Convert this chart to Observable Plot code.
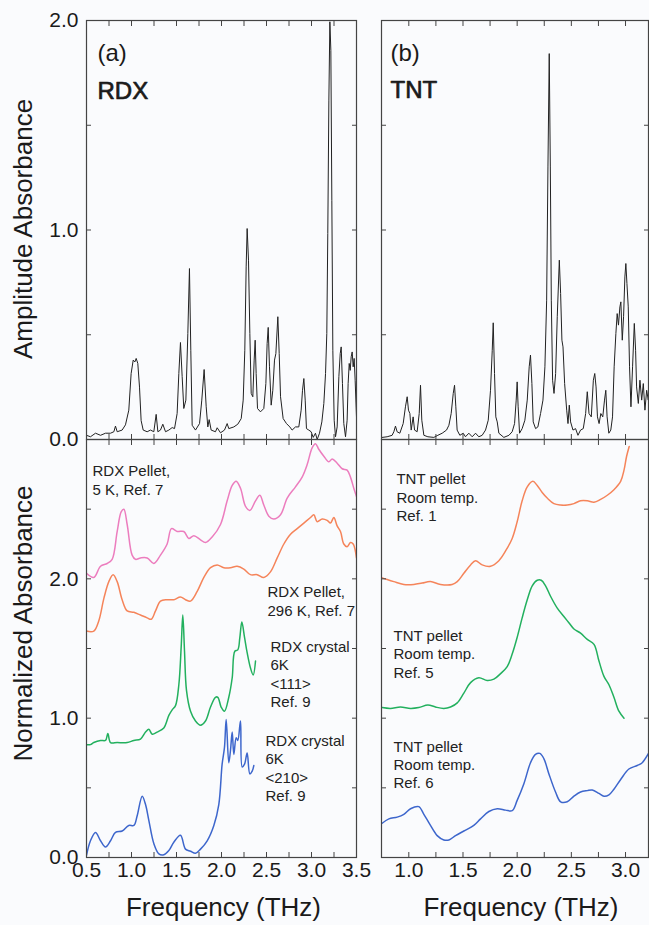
<!DOCTYPE html>
<html><head><meta charset="utf-8">
<script src="https://cdn.jsdelivr.net/npm/d3@7"></script>
<script src="https://cdn.jsdelivr.net/npm/@observablehq/plot@0.6"></script>
<style>
body{margin:0;background:#fafbfd;}
#chart{position:relative;width:649px;height:925px;font-family:"Liberation Sans",Arial,sans-serif;}
#chart svg{position:absolute;left:0;top:0;}
</style></head><body><div id="chart"></div>
<script>
// ---------- DATA ----------
// (a) RDX amplitude absorbance
const rdxAmpFreq = [0.500,0.544,0.600,0.656,0.711,0.767,0.804,0.822,0.841,0.896,0.933,0.970,0.996,1.019,1.037,1.052,1.070,1.089,1.107,1.130,1.174,1.211,1.248,1.274,1.293,1.322,1.348,1.378,1.415,1.452,1.478,1.507,1.526,1.544,1.563,1.581,1.604,1.626,1.644,1.659,1.674,1.711,1.756,1.781,1.807,1.830,1.848,1.863,1.885,1.933,1.952,1.989,2.033,2.063,2.081,2.137,2.181,2.219,2.241,2.259,2.274,2.285,2.300,2.315,2.330,2.348,2.363,2.374,2.385,2.400,2.433,2.470,2.493,2.507,2.519,2.533,2.552,2.570,2.589,2.604,2.626,2.641,2.656,2.685,2.722,2.759,2.785,2.822,2.859,2.885,2.900,2.915,2.930,2.944,2.970,2.996,3.019,3.044,3.063,3.089,3.115,3.137,3.156,3.170,3.181,3.193,3.204,3.215,3.226,3.237,3.252,3.267,3.285,3.304,3.319,3.330,3.344,3.359,3.378,3.396,3.407,3.419,3.430,3.441,3.452,3.463,3.474,3.485,3.500];
const rdxAmpAbs = [0.02,0.013,0.03,0.02,0.03,0.03,0.037,0.064,0.037,0.045,0.07,0.14,0.315,0.379,0.37,0.387,0.363,0.25,0.09,0.045,0.037,0.045,0.037,0.12,0.037,0.045,0.073,0.037,0.045,0.057,0.052,0.124,0.315,0.463,0.3,0.148,0.188,0.506,0.816,0.426,0.068,0.045,0.076,0.188,0.334,0.156,0.06,0.095,0.045,0.037,0.056,0.032,0.045,0.076,0.052,0.06,0.073,0.1,0.188,0.426,0.824,1.007,0.856,0.506,0.22,0.204,0.379,0.474,0.315,0.148,0.132,0.148,0.267,0.458,0.535,0.347,0.164,0.235,0.379,0.41,0.586,0.41,0.204,0.1,0.076,0.06,0.045,0.06,0.06,0.14,0.235,0.291,0.188,0.052,0.045,0.037,0.01,0.03,0.0,0.03,0.084,0.172,0.315,0.506,0.983,1.62,1.994,1.858,1.142,0.426,0.092,0.013,0.06,0.3,0.41,0.442,0.267,0.076,0.013,0.092,0.267,0.363,0.33,0.395,0.418,0.347,0.387,0.283,0.108];

// (b) TNT amplitude absorbance
const tntAmpFreq = [0.754,0.800,0.846,0.862,0.877,0.892,0.917,0.948,0.969,0.985,0.997,1.010,1.022,1.040,1.053,1.077,1.096,1.108,1.120,1.139,1.176,1.231,1.268,1.308,1.348,1.370,1.391,1.410,1.422,1.434,1.446,1.471,1.502,1.523,1.554,1.585,1.616,1.646,1.677,1.708,1.733,1.754,1.770,1.779,1.791,1.803,1.816,1.831,1.877,1.924,1.954,1.976,1.991,2.000,2.009,2.022,2.046,2.071,2.093,2.111,2.123,2.136,2.148,2.170,2.191,2.216,2.238,2.256,2.272,2.284,2.296,2.306,2.315,2.327,2.340,2.355,2.370,2.389,2.401,2.413,2.423,2.438,2.457,2.469,2.481,2.493,2.515,2.539,2.561,2.585,2.610,2.632,2.647,2.663,2.684,2.703,2.716,2.728,2.741,2.756,2.772,2.790,2.806,2.818,2.830,2.846,2.864,2.880,2.895,2.911,2.923,2.935,2.948,2.957,2.970,2.982,2.994,3.003,3.013,3.025,3.037,3.050,3.065,3.081,3.093,3.102,3.118,3.133,3.149,3.164,3.179,3.195,3.210,3.222];
const tntAmpAbs = [0.01,0.013,0.02,0.037,0.064,0.037,0.03,0.076,0.156,0.204,0.14,0.124,0.045,0.108,0.045,0.037,0.124,0.259,0.092,0.02,0.013,0.01,0.02,0.03,0.045,0.068,0.124,0.22,0.259,0.156,0.045,0.02,0.03,0.013,0.03,0.013,0.03,0.013,0.02,0.045,0.092,0.235,0.426,0.557,0.315,0.108,0.084,0.03,0.01,0.02,0.037,0.076,0.188,0.275,0.156,0.03,0.052,0.092,0.188,0.347,0.403,0.267,0.084,0.052,0.06,0.124,0.188,0.347,0.665,1.301,1.842,1.301,0.665,0.283,0.22,0.315,0.586,0.856,0.697,0.474,0.442,0.267,0.14,0.076,0.164,0.084,0.045,0.052,0.02,0.045,0.052,0.124,0.228,0.124,0.108,0.283,0.315,0.251,0.108,0.076,0.124,0.108,0.188,0.235,0.108,0.03,0.045,0.108,0.347,0.506,0.601,0.546,0.633,0.657,0.474,0.586,0.776,0.84,0.745,0.633,0.347,0.156,0.347,0.554,0.426,0.251,0.172,0.283,0.188,0.267,0.14,0.235,0.188,0.267];

// normalized absorbance, RDX (offset curves)
const rdx5KFreq = [0.500,0.581,0.656,0.730,0.785,0.841,0.885,0.915,0.952,1.007,1.044,1.100,1.174,1.248,1.322,1.396,1.444,1.507,1.581,1.637,1.693,1.767,1.822,1.896,1.989,2.063,2.119,2.163,2.211,2.267,2.315,2.378,2.426,2.470,2.526,2.581,2.656,2.730,2.822,2.896,2.952,3.007,3.044,3.081,3.137,3.193,3.230,3.285,3.341,3.396,3.433,3.470,3.500];
const rdx5KAbs = [2.04,2.01,2.09,2.11,2.14,2.34,2.48,2.50,2.39,2.17,2.14,2.15,2.15,2.11,2.17,2.25,2.36,2.34,2.34,2.29,2.31,2.28,2.26,2.30,2.39,2.56,2.67,2.70,2.65,2.52,2.49,2.56,2.60,2.53,2.45,2.43,2.46,2.58,2.66,2.73,2.82,2.94,2.97,2.93,2.88,2.84,2.86,2.83,2.79,2.78,2.73,2.65,2.59];
const rdx296KFreq = [0.500,0.581,0.637,0.693,0.748,0.796,0.841,0.896,0.952,1.026,1.100,1.174,1.219,1.267,1.322,1.396,1.470,1.544,1.600,1.656,1.730,1.804,1.878,1.952,2.026,2.100,2.174,2.248,2.322,2.396,2.470,2.544,2.619,2.693,2.767,2.841,2.915,2.989,3.026,3.063,3.119,3.174,3.211,3.248,3.285,3.322,3.359,3.396,3.433,3.463,3.500];
const rdx296KAbs = [1.625,1.625,1.70,1.86,1.98,2.03,1.98,1.85,1.77,1.76,1.74,1.72,1.71,1.77,1.84,1.85,1.85,1.87,1.85,1.84,1.91,2.01,2.08,2.10,2.08,2.08,2.09,2.07,2.03,2.03,2.01,2.05,2.15,2.25,2.32,2.36,2.40,2.44,2.46,2.41,2.43,2.42,2.40,2.44,2.38,2.34,2.25,2.23,2.26,2.25,2.15];
const rdx111Freq = [0.500,0.544,0.581,0.656,0.711,0.737,0.767,0.841,0.952,1.026,1.100,1.156,1.193,1.230,1.285,1.359,1.415,1.452,1.489,1.526,1.552,1.570,1.589,1.611,1.656,1.711,1.767,1.822,1.878,1.933,1.959,1.996,2.033,2.081,2.119,2.148,2.181,2.204,2.226,2.256,2.285,2.322,2.352,2.378];
const rdx111Abs = [0.81,0.81,0.825,0.84,0.84,0.89,0.825,0.825,0.825,0.84,0.85,0.90,0.92,0.885,0.90,0.93,1.02,1.06,1.09,1.24,1.51,1.74,1.48,1.20,1.05,0.98,0.95,0.98,1.08,1.15,1.15,1.08,1.05,1.15,1.29,1.48,1.49,1.58,1.69,1.58,1.47,1.36,1.31,1.41];
const rdx210Freq = [0.500,0.544,0.600,0.656,0.711,0.767,0.822,0.896,0.970,1.026,1.063,1.119,1.156,1.193,1.248,1.304,1.359,1.415,1.470,1.544,1.600,1.656,1.711,1.767,1.841,1.915,1.970,2.007,2.033,2.052,2.081,2.100,2.119,2.137,2.163,2.181,2.211,2.230,2.256,2.285,2.315,2.341,2.359];
const rdx210Abs = [0.015,0.12,0.18,0.12,0.075,0.12,0.18,0.19,0.23,0.23,0.30,0.44,0.38,0.265,0.10,0.026,0.02,0.05,0.11,0.16,0.06,0.045,0.03,0.06,0.12,0.23,0.38,0.67,0.79,0.99,0.68,0.77,0.90,0.74,0.86,0.84,0.98,0.65,0.67,0.75,0.60,0.62,0.66];

// normalized absorbance, TNT (offset curves)
const tntRef1Freq = [0.754,0.800,0.862,0.954,1.046,1.123,1.200,1.293,1.400,1.447,1.508,1.570,1.616,1.677,1.754,1.831,1.893,1.954,2.000,2.046,2.093,2.145,2.185,2.231,2.277,2.339,2.401,2.462,2.524,2.585,2.647,2.709,2.770,2.832,2.893,2.955,2.986,3.010,3.034];
const tntRef1Abs = [2.007,1.995,1.98,1.96,1.96,1.97,1.98,1.96,1.96,1.98,2.04,2.10,2.13,2.10,2.09,2.13,2.20,2.29,2.41,2.56,2.66,2.70,2.67,2.62,2.58,2.54,2.53,2.53,2.54,2.56,2.56,2.55,2.57,2.60,2.64,2.70,2.78,2.88,2.95];
const tntRef5Freq = [0.754,0.831,0.923,1.016,1.092,1.176,1.246,1.323,1.385,1.447,1.508,1.570,1.646,1.723,1.785,1.847,1.908,1.954,2.000,2.046,2.093,2.139,2.185,2.222,2.262,2.308,2.370,2.431,2.477,2.524,2.585,2.647,2.709,2.755,2.801,2.847,2.893,2.939,2.986];
const tntRef5Abs = [1.076,1.07,1.08,1.07,1.076,1.095,1.08,1.07,1.08,1.11,1.18,1.255,1.29,1.27,1.28,1.32,1.37,1.46,1.58,1.72,1.85,1.95,1.99,1.99,1.95,1.875,1.79,1.73,1.685,1.64,1.61,1.565,1.53,1.41,1.30,1.24,1.15,1.05,1.00];
const tntRef6Freq = [0.754,0.816,0.893,0.954,1.016,1.092,1.139,1.200,1.262,1.323,1.370,1.431,1.508,1.600,1.662,1.739,1.816,1.893,1.954,2.000,2.062,2.123,2.169,2.209,2.246,2.293,2.354,2.401,2.462,2.524,2.585,2.647,2.693,2.755,2.801,2.847,2.893,2.955,3.031,3.108,3.154,3.222];
const tntRef6Abs = [0.246,0.277,0.29,0.31,0.35,0.365,0.31,0.23,0.157,0.126,0.126,0.157,0.19,0.23,0.277,0.33,0.35,0.34,0.336,0.41,0.53,0.68,0.74,0.747,0.71,0.60,0.47,0.40,0.40,0.44,0.47,0.48,0.484,0.46,0.44,0.45,0.49,0.56,0.635,0.66,0.68,0.76];

// curve labels
const rdxLabels = ["RDX Pellet,\n5 K, Ref. 7", "RDX Pellet,\n296 K, Ref. 7", "RDX crystal\n6K\n<111>\nRef. 9", "RDX crystal\n6K\n<210>\nRef. 9"];
const tntLabels = ["TNT pellet\nRoom temp.\nRef. 1", "TNT pellet\nRoom temp.\nRef. 5", "TNT pellet\nRoom temp.\nRef. 6"];
const xTickLabelsA = [0.5, 1.0, 1.5, 2.0, 2.5, 3.0, 3.5];
const xTickLabelsB = [1.0, 1.5, 2.0, 2.5, 3.0];
const yTickLabels = [0.0, 1.0, 2.0];

// ---------- LAYOUT ----------
const W = 649, H = 925;
const FONT = "'Liberation Sans', Arial, Helvetica, sans-serif";
const INK = "#1a1a1a", FRAME = "#444";
const colors = {pink: "#ec7dbe", orange: "#f5845a", green: "#22b05e", blue: "#3d66cc"};
const pts = (f, v) => f.map((x, i) => ({f: x, v: v[i]}));
const rangeStep = (a, b, s) => d3.range(Math.round((b - a) / s) + 1).map(i => +(a + i * s).toFixed(4));

function panel({frame: [l, t, r, b], xDomain, yDomain, xMinor, yMinor, xLab, yLab, marks}) {
  const ticks = [
    Plot.axisX(xMinor, {anchor: "bottom", tickSize: -5, tickFormat: () => "", label: null, stroke: FRAME}),
    Plot.axisX(xMinor, {anchor: "top", tickSize: -5, tickFormat: () => "", label: null, stroke: FRAME}),
    Plot.axisY(yMinor, {anchor: "left", tickSize: -5, tickFormat: () => "", label: null, stroke: FRAME}),
    Plot.axisY(yMinor, {anchor: "right", tickSize: -5, tickFormat: () => "", label: null, stroke: FRAME})
  ];
  if (xLab) ticks.push(Plot.axisX(xLab, {anchor: "bottom", tickSize: 0, tickPadding: 5, tickFormat: d3.format(".1f"), label: null, fontSize: 21, fill: INK}));
  if (yLab) ticks.push(Plot.axisY(yLab, {anchor: "left", tickSize: 0, tickPadding: 8, tickFormat: d3.format(".1f"), label: null, fontSize: 21, fill: INK}));
  return Plot.plot({
    width: W, height: H,
    marginLeft: l, marginTop: t, marginRight: W - r, marginBottom: H - b,
    x: {domain: xDomain, axis: null},
    y: {domain: yDomain, axis: null},
    style: {background: "transparent", fontFamily: FONT, overflow: "visible"},
    marks: [...marks, ...ticks, Plot.frame({stroke: FRAME, strokeWidth: 1.2})]
  });
}

const xA = [0.5, 3.5], xB = [0.748, 3.212];
const minorA = rangeStep(0.75, 3.25, 0.25);
const minorB = rangeStep(1.0, 3.0, 0.25);
const nameOpts = {frameAnchor: "top-left", fontSize: 24, textAnchor: "start", lineAnchor: "middle", fill: INK, stroke: INK, strokeWidth: 0.7};

const tl = panel({
  frame: [86, 20, 356, 439], xDomain: xA, yDomain: [0, 2],
  xMinor: minorA, yMinor: rangeStep(0.5, 1.5, 0.5), yLab: yTickLabels,
  marks: [
    Plot.line(pts(rdxAmpFreq, rdxAmpAbs), {x: "f", y: "v", stroke: "#222", strokeWidth: 1, clip: true}),
    Plot.text(["(a)"], {frameAnchor: "top-left", dx: 11, dy: 33, fontSize: 24, textAnchor: "start", lineAnchor: "middle", fill: INK}),
    Plot.text(["RDX"], {...nameOpts, dx: 11, dy: 71}),
    Plot.text(["Amplitude Absorbance"], {frameAnchor: "left", dx: -63, dy: -1, rotate: -90, fontSize: 26, textAnchor: "middle", lineAnchor: "middle", fill: INK})
  ]
});

const tr = panel({
  frame: [381, 20, 648, 439], xDomain: xB, yDomain: [0, 2],
  xMinor: minorB, yMinor: rangeStep(0.5, 1.5, 0.5),
  marks: [
    Plot.line(pts(tntAmpFreq, tntAmpAbs), {x: "f", y: "v", stroke: "#222", strokeWidth: 1, clip: true}),
    Plot.text(["(b)"], {frameAnchor: "top-left", dx: 9, dy: 33, fontSize: 24, textAnchor: "start", lineAnchor: "middle", fill: INK}),
    Plot.text(["TNT"], {...nameOpts, dx: 9, dy: 70})
  ]
});

const labA = [{f: 0.567, v: 2.83}, {f: 2.511, v: 1.963}, {f: 2.544, v: 1.570}, {f: 2.489, v: 0.897}].map((d, i) => ({...d, t: rdxLabels[i]}));
const labB = [{f: 0.886, v: 2.772}, {f: 0.859, v: 1.649}, {f: 0.859, v: 0.854}].map((d, i) => ({...d, t: tntLabels[i]}));
const curve = "catmull-rom";
const lineOpts = (c) => ({x: "f", y: "v", stroke: c, strokeWidth: 1.5, curve, clip: true});
const labelOpts = {x: "f", y: "v", text: "t", textAnchor: "start", lineAnchor: "top", fontSize: 15, lineHeight: 1.23, fill: "#222"};

const bl = panel({
  frame: [86, 439, 356, 857], xDomain: xA, yDomain: [0, 3],
  xMinor: minorA, yMinor: rangeStep(0.5, 2.5, 0.5), xLab: xTickLabelsA, yLab: yTickLabels,
  marks: [
    Plot.line(pts(rdx5KFreq, rdx5KAbs), lineOpts(colors.pink)),
    Plot.line(pts(rdx296KFreq, rdx296KAbs), lineOpts(colors.orange)),
    Plot.line(pts(rdx111Freq, rdx111Abs), lineOpts(colors.green)),
    Plot.line(pts(rdx210Freq, rdx210Abs), lineOpts(colors.blue)),
    Plot.text(labA, labelOpts),
    Plot.text(["Normalized Absorbance"], {frameAnchor: "left", dx: -63, dy: -25, rotate: -90, fontSize: 26, textAnchor: "middle", lineAnchor: "middle", fill: INK}),
    Plot.text(["Frequency (THz)"], {frameAnchor: "bottom", dx: 2, dy: 50, fontSize: 26, textAnchor: "middle", lineAnchor: "middle", fill: INK})
  ]
});

const br = panel({
  frame: [381, 439, 648, 857], xDomain: xB, yDomain: [0, 3],
  xMinor: minorB, yMinor: rangeStep(0.5, 2.5, 0.5), xLab: xTickLabelsB,
  marks: [
    Plot.line(pts(tntRef1Freq, tntRef1Abs), lineOpts(colors.orange)),
    Plot.line(pts(tntRef5Freq, tntRef5Abs), lineOpts(colors.green)),
    Plot.line(pts(tntRef6Freq, tntRef6Abs), lineOpts(colors.blue)),
    Plot.text(labB, labelOpts),
    Plot.text(["Frequency (THz)"], {frameAnchor: "bottom", dx: 6, dy: 50, fontSize: 26, textAnchor: "middle", lineAnchor: "middle", fill: INK})
  ]
});

const root = document.getElementById("chart");
[tl, tr, bl, br].forEach(p => root.appendChild(p));
</script></body></html>
